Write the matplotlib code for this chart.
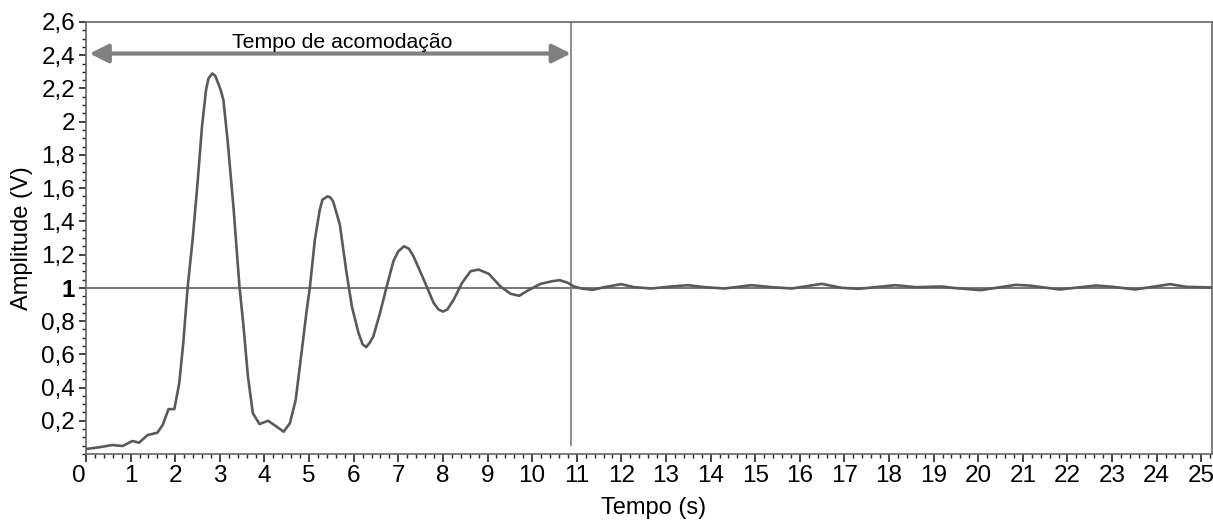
import numpy as np
from matplotlib import pyplot as plt
from matplotlib.ticker import FixedLocator, MultipleLocator, FuncFormatter

plt.rcParams['font.family'] = ['Liberation Sans', 'DejaVu Sans']

# resposta ao degrau
tempo = [0.0, 0.29, 0.59, 0.82, 1.04, 1.19, 1.38, 1.60, 1.72, 1.85, 1.98, 2.09,
         2.18, 2.28, 2.39, 2.50, 2.60, 2.645, 2.69, 2.745, 2.83, 2.895, 2.95, 3.02,
         3.08, 3.18, 3.31, 3.44, 3.53, 3.63, 3.74, 3.89, 4.08, 4.27, 4.43, 4.57,
         4.70, 4.83, 4.94, 5.02, 5.13, 5.24, 5.30, 5.41, 5.47, 5.54, 5.69, 5.84,
         5.96, 6.11, 6.20, 6.28, 6.36, 6.44, 6.59, 6.74, 6.89, 7.00, 7.13, 7.24,
         7.34, 7.57, 7.79, 7.90, 8.00, 8.10, 8.24, 8.43, 8.62, 8.80, 9.03, 9.29,
         9.52, 9.71, 9.93, 10.19, 10.45, 10.62, 10.80, 10.94, 11.10, 11.36, 11.62,
         11.99, 12.29, 12.67, 13.12, 13.49, 13.87, 14.31, 14.92, 15.37, 15.82,
         16.49, 16.94, 17.32, 18.14, 18.59, 19.19, 19.42, 20.06, 20.84, 21.14,
         21.82, 22.64, 23.02, 23.51, 24.30, 24.67, 25.24]
amplitude = [0.030, 0.040, 0.054, 0.048, 0.078, 0.068, 0.114, 0.128, 0.175, 0.270,
             0.270, 0.426, 0.667, 1.008, 1.290, 1.630, 1.970, 2.080, 2.190, 2.260,
             2.290, 2.277, 2.240, 2.190, 2.130, 1.870, 1.470, 1.008, 0.770, 0.466,
             0.245, 0.180, 0.200, 0.165, 0.134, 0.185, 0.325, 0.607, 0.850, 1.008,
             1.290, 1.470, 1.530, 1.550, 1.546, 1.520, 1.380, 1.090, 0.887, 0.727,
             0.660, 0.643, 0.670, 0.707, 0.848, 1.008, 1.160, 1.220, 1.250, 1.235,
             1.190, 1.050, 0.910, 0.870, 0.857, 0.870, 0.928, 1.030, 1.100, 1.110,
             1.084, 1.008, 0.964, 0.952, 0.988, 1.024, 1.040, 1.046, 1.030, 1.008,
             0.996, 0.988, 1.004, 1.022, 1.004, 0.996, 1.008, 1.016, 1.004, 0.996,
             1.016, 1.004, 0.996, 1.024, 1.000, 0.994, 1.016, 1.004, 1.008, 1.000,
             0.986, 1.018, 1.014, 0.990, 1.014, 1.006, 0.990, 1.022, 1.006, 1.002]

t_acomodacao = 10.87
referencia = 1.0
x_ticks = list(range(0, 26))
y_ticks = [0.2, 0.4, 0.6, 0.8, 1.0, 1.2, 1.4, 1.6, 1.8, 2.0, 2.2, 2.4, 2.6]

fig = plt.figure(figsize=(12.13, 5.22), dpi=100)
ax = fig.add_axes([0.0709, 0.1303, 0.9283, 0.8276])

ax.plot(tempo, amplitude, color='#5a5a5a', lw=1.9, zorder=3,
        solid_joinstyle='round', solid_capstyle='round')
ax.axhline(y=referencia, color='#7a7a7a', lw=1.5, zorder=2)
ax.axvline(x=t_acomodacao, ymin=0.02, ymax=1, color='#7a7a7a', lw=1.2, zorder=2)

ax.annotate('', xy=(0.08, 2.41), xytext=(t_acomodacao, 2.41),
            arrowprops=dict(arrowstyle='<|-|>', color='#808080', lw=3,
                            mutation_scale=28, shrinkA=0, shrinkB=0))
ax.text(5.75, 2.475, 'Tempo de acomodação', ha='center', va='center', fontsize=15.3)

ax.set_xlim(0, 25.24)
ax.set_ylim(0, 2.6)

ax.xaxis.set_major_locator(FixedLocator(x_ticks))
ax.xaxis.set_minor_locator(MultipleLocator(0.2))
ax.yaxis.set_major_locator(FixedLocator(y_ticks))
ax.yaxis.set_minor_locator(MultipleLocator(0.05))

fmt = FuncFormatter(lambda v, p: ('%g' % round(v, 2)).replace('.', ','))
ax.xaxis.set_major_formatter(fmt)
ax.yaxis.set_major_formatter(fmt)

ax.tick_params(which='major', direction='out', length=5, width=1.2,
               color='#222222', labelsize=17.5, pad=3)
ax.tick_params(which='minor', direction='out', length=3, width=1.0, color='#222222')
ax.tick_params(axis='x', which='major', length=6, pad=2)

for lab in ax.get_yticklabels():
    if lab.get_text() == '1':
        lab.set_fontweight('bold')
ax.get_xticklabels()[0].set_horizontalalignment('right')

for s in ax.spines.values():
    s.set_color('#666666')
    s.set_linewidth(1.2)

ax.set_xlabel('Tempo (s)', fontsize=17)
ax.xaxis.set_label_coords(0.504, -0.100)
ax.set_ylabel('Amplitude (V)', fontsize=17, labelpad=6)

fig.savefig('out.png', dpi=100)
